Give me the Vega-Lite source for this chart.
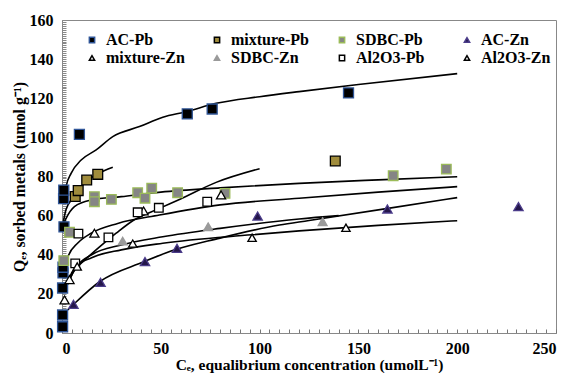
{
 "$schema": "https://vega.github.io/schema/vega-lite/v6.json",
 "width": 494,
 "height": 313,
 "autosize": "none",
 "padding": {"left": 62, "top": 20, "right": 13, "bottom": 40},
 "background": "white",
 "config": {"view": {"stroke": "#888888", "strokeWidth": 1}, "font": "Liberation Serif",
  "legend": {"labelFont": "Liberation Serif", "labelFontSize": 16, "labelFontWeight": "bold", "labelColor": "black"}},
 "datasets": {
  "pts": [
   {"series": "AC-Pb", "x": 0.3, "y": 3.2}, {"series": "AC-Pb", "x": 0.3, "y": 9.2}, {"series": "AC-Pb", "x": 0.3, "y": 23}, {"series": "AC-Pb", "x": 0.5, "y": 30.7}, {"series": "AC-Pb", "x": 0.5, "y": 33.6}, {"series": "AC-Pb", "x": 1, "y": 54.3}, {"series": "AC-Pb", "x": 0.8, "y": 68.7}, {"series": "AC-Pb", "x": 0.9, "y": 73}, {"series": "AC-Pb", "x": 8.8, "y": 101.5}, {"series": "AC-Pb", "x": 63.4, "y": 112}, {"series": "AC-Pb", "x": 76, "y": 114.5}, {"series": "AC-Pb", "x": 145, "y": 122.7},
   {"series": "mixture-Pb", "x": 6.7, "y": 69.8}, {"series": "mixture-Pb", "x": 8.2, "y": 72.8}, {"series": "mixture-Pb", "x": 12.5, "y": 78.2}, {"series": "mixture-Pb", "x": 18.1, "y": 81.1}, {"series": "mixture-Pb", "x": 138.3, "y": 87.9},
   {"series": "SDBC-Pb", "x": 0.9, "y": 37}, {"series": "SDBC-Pb", "x": 3.8, "y": 51.5}, {"series": "SDBC-Pb", "x": 16.4, "y": 69.7}, {"series": "SDBC-Pb", "x": 16.4, "y": 67.1}, {"series": "SDBC-Pb", "x": 25, "y": 68.3}, {"series": "SDBC-Pb", "x": 38.3, "y": 71.7}, {"series": "SDBC-Pb", "x": 42, "y": 68.9}, {"series": "SDBC-Pb", "x": 45.4, "y": 74}, {"series": "SDBC-Pb", "x": 58.5, "y": 71.7}, {"series": "SDBC-Pb", "x": 82.5, "y": 71.4}, {"series": "SDBC-Pb", "x": 167.6, "y": 80.4}, {"series": "SDBC-Pb", "x": 194.5, "y": 83.8},
   {"series": "AC-Zn", "x": 5.8, "y": 14.7}, {"series": "AC-Zn", "x": 19.5, "y": 25.9}, {"series": "AC-Zn", "x": 42, "y": 36.5}, {"series": "AC-Zn", "x": 58.2, "y": 43.3}, {"series": "AC-Zn", "x": 99, "y": 59.8}, {"series": "AC-Zn", "x": 164.7, "y": 63.4}, {"series": "AC-Zn", "x": 231, "y": 64.6},
   {"series": "mixture-Zn", "x": 1.3, "y": 16.9}, {"series": "mixture-Zn", "x": 3.8, "y": 27.3}, {"series": "mixture-Zn", "x": 16.4, "y": 51}, {"series": "mixture-Zn", "x": 41.3, "y": 62.4}, {"series": "mixture-Zn", "x": 80.5, "y": 70.6},
   {"series": "SDBC-Zn", "x": 30.7, "y": 47}, {"series": "SDBC-Zn", "x": 74, "y": 54.3}, {"series": "SDBC-Zn", "x": 131.9, "y": 56.9},
   {"series": "Al2O3-Pb", "x": 6.7, "y": 35.6}, {"series": "Al2O3-Pb", "x": 8.3, "y": 50.8}, {"series": "Al2O3-Pb", "x": 23.5, "y": 48.9}, {"series": "Al2O3-Pb", "x": 38.3, "y": 61.7}, {"series": "Al2O3-Pb", "x": 49, "y": 64}, {"series": "Al2O3-Pb", "x": 73.5, "y": 67.1},
   {"series": "Al2O3-Zn", "x": 7.7, "y": 34}, {"series": "Al2O3-Zn", "x": 35.8, "y": 45.7}, {"series": "Al2O3-Zn", "x": 96.2, "y": 48.7}, {"series": "Al2O3-Zn", "x": 143.7, "y": 53.8}
  ],
  "fits": [
   {"curve": "AC-Pb", "x": 0.8, "y": 66}, {"curve": "AC-Pb", "x": 2.1, "y": 75}, {"curve": "AC-Pb", "x": 4.6, "y": 81.6}, {"curve": "AC-Pb", "x": 9.7, "y": 88.4}, {"curve": "AC-Pb", "x": 17.3, "y": 93.6}, {"curve": "AC-Pb", "x": 25.7, "y": 100.4}, {"curve": "AC-Pb", "x": 39.2, "y": 105.5}, {"curve": "AC-Pb", "x": 51, "y": 110.3}, {"curve": "AC-Pb", "x": 62.8, "y": 113.1}, {"curve": "AC-Pb", "x": 78, "y": 117.4}, {"curve": "AC-Pb", "x": 100, "y": 120.8}, {"curve": "AC-Pb", "x": 120, "y": 123.4}, {"curve": "AC-Pb", "x": 150, "y": 127}, {"curve": "AC-Pb", "x": 200, "y": 132.6},
   {"curve": "mixture-Pb", "x": 0.5, "y": 56}, {"curve": "mixture-Pb", "x": 2, "y": 63}, {"curve": "mixture-Pb", "x": 5.5, "y": 69}, {"curve": "mixture-Pb", "x": 12.2, "y": 77.4}, {"curve": "mixture-Pb", "x": 18.1, "y": 81.3}, {"curve": "mixture-Pb", "x": 25.7, "y": 84.7},
   {"curve": "SDBC-Pb", "x": 0.4, "y": 55}, {"curve": "SDBC-Pb", "x": 2, "y": 58.5}, {"curve": "SDBC-Pb", "x": 6.3, "y": 64.6}, {"curve": "SDBC-Pb", "x": 14.8, "y": 68}, {"curve": "SDBC-Pb", "x": 30, "y": 69.7}, {"curve": "SDBC-Pb", "x": 50, "y": 72}, {"curve": "SDBC-Pb", "x": 80, "y": 74.2}, {"curve": "SDBC-Pb", "x": 120, "y": 76.5}, {"curve": "SDBC-Pb", "x": 160, "y": 78.3}, {"curve": "SDBC-Pb", "x": 200, "y": 79.9},
   {"curve": "mixture-Zn", "x": 1.3, "y": 21}, {"curve": "mixture-Zn", "x": 5, "y": 31}, {"curve": "mixture-Zn", "x": 8.8, "y": 34.8}, {"curve": "mixture-Zn", "x": 19, "y": 44}, {"curve": "mixture-Zn", "x": 27.4, "y": 51}, {"curve": "mixture-Zn", "x": 35.8, "y": 57.4}, {"curve": "mixture-Zn", "x": 49.3, "y": 63.7}, {"curve": "mixture-Zn", "x": 60, "y": 68.5}, {"curve": "mixture-Zn", "x": 78, "y": 77}, {"curve": "mixture-Zn", "x": 100, "y": 84},
   {"curve": "Al2O3-Pb", "x": 1.3, "y": 30}, {"curve": "Al2O3-Pb", "x": 3, "y": 39}, {"curve": "Al2O3-Pb", "x": 8, "y": 46}, {"curve": "Al2O3-Pb", "x": 14.8, "y": 51}, {"curve": "Al2O3-Pb", "x": 28.2, "y": 56}, {"curve": "Al2O3-Pb", "x": 49.3, "y": 60.3}, {"curve": "Al2O3-Pb", "x": 80, "y": 65.5}, {"curve": "Al2O3-Pb", "x": 120, "y": 68.9}, {"curve": "Al2O3-Pb", "x": 160, "y": 72}, {"curve": "Al2O3-Pb", "x": 200, "y": 74.8},
   {"curve": "SDBC-Zn", "x": 1.3, "y": 21}, {"curve": "SDBC-Zn", "x": 3, "y": 25.4}, {"curve": "SDBC-Zn", "x": 7.7, "y": 34.3}, {"curve": "SDBC-Zn", "x": 15, "y": 40}, {"curve": "SDBC-Zn", "x": 30, "y": 45}, {"curve": "SDBC-Zn", "x": 51, "y": 49.2}, {"curve": "SDBC-Zn", "x": 80, "y": 53.5}, {"curve": "SDBC-Zn", "x": 120, "y": 58.3}, {"curve": "SDBC-Zn", "x": 140, "y": 60},
   {"curve": "Al2O3-Zn", "x": 1.3, "y": 21}, {"curve": "Al2O3-Zn", "x": 3, "y": 25.4}, {"curve": "Al2O3-Zn", "x": 7.7, "y": 34.3}, {"curve": "Al2O3-Zn", "x": 15, "y": 38.5}, {"curve": "Al2O3-Zn", "x": 30, "y": 42.5}, {"curve": "Al2O3-Zn", "x": 51, "y": 45.9}, {"curve": "Al2O3-Zn", "x": 96, "y": 50.2}, {"curve": "Al2O3-Zn", "x": 120, "y": 52.2}, {"curve": "Al2O3-Zn", "x": 160, "y": 55}, {"curve": "Al2O3-Zn", "x": 200, "y": 57.4},
   {"curve": "AC-Zn", "x": 2.9, "y": 11.8}, {"curve": "AC-Zn", "x": 5.5, "y": 14.3}, {"curve": "AC-Zn", "x": 19, "y": 26.2}, {"curve": "AC-Zn", "x": 41.7, "y": 36.5}, {"curve": "AC-Zn", "x": 51.8, "y": 40.7}, {"curve": "AC-Zn", "x": 80, "y": 48.5}, {"curve": "AC-Zn", "x": 110, "y": 55.2}, {"curve": "AC-Zn", "x": 125, "y": 57.5}, {"curve": "AC-Zn", "x": 165, "y": 63.7}, {"curve": "AC-Zn", "x": 200, "y": 69.2}
  ]
 },
 "encoding": {
  "x": {"field": "x", "type": "quantitative", "scale": {"domain": [0, 250], "nice": false},
   "axis": {"values": [0,5,10,15,20,25,30,35,40,45,50,55,60,65,70,75,80,85,90,95,100,105,110,115,120,125,130,135,140,145,150,155,160,165,170,175,180,185,190,195,200,205,210,215,220,225,230,235,240,245,250],
    "labelExpr": "datum.value % 50 === 0 ? datum.label : ''", "labelOverlap": false, "labelSeparation": 0, "grid": false,
    "tickSize": -4, "tickColor": "#777777", "domainColor": "#888888",
    "labelFont": "Liberation Serif", "labelFontSize": 16, "labelFontWeight": "bold", "labelColor": "black", "labelPadding": 11,
    "title": "Cₑ, equalibrium concentration (umolL⁻¹)", "titleFont": "Liberation Serif", "titleFontSize": 15.5, "titleFontWeight": "bold", "titleColor": "black", "titleBaseline": "alphabetic", "titleY": 36}},
  "y": {"field": "y", "type": "quantitative", "scale": {"domain": [0, 160], "nice": false},
   "axis": {"values": [0,1,2,3,4,5,6,7,8,9,10,11,12,13,14,15,16,17,18,19,20,21,22,23,24,25,26,27,28,29,30,31,32,33,34,35,36,37,38,39,40,41,42,43,44,45,46,47,48,49,50,51,52,53,54,55,56,57,58,59,60,61,62,63,64,65,66,67,68,69,70,71,72,73,74,75,76,77,78,79,80,81,82,83,84,85,86,87,88,89,90,91,92,93,94,95,96,97,98,99,100,101,102,103,104,105,106,107,108,109,110,111,112,113,114,115,116,117,118,119,120,121,122,123,124,125,126,127,128,129,130,131,132,133,134,135,136,137,138,139,140,141,142,143,144,145,146,147,148,149,150,151,152,153,154,155,156,157,158,159,160],
    "labelExpr": "datum.value % 20 === 0 ? datum.label : ''", "labelOverlap": false, "labelSeparation": 0, "grid": false,
    "tickSize": -4, "tickColor": "#888888", "domainColor": "#888888",
    "labelFont": "Liberation Serif", "labelFontSize": 16, "labelFontWeight": "bold", "labelColor": "black", "labelPadding": 13,
    "title": "Qₑ, sorbed metals (umol g⁻¹)", "titleFont": "Liberation Serif", "titleFontSize": 16, "titleFontWeight": "bold", "titleColor": "black", "titlePadding": 2}}
 },
 "layer": [
  {
   "data": {"name": "fits"},
   "mark": {"type": "line", "color": "black", "strokeWidth": 1.6, "interpolate": "monotone"},
   "encoding": {"detail": {"field": "curve"}}
  },
  {
   "data": {"name": "pts"},
   "mark": {"type": "point", "opacity": 1, "strokeWidth": 1.3, "filled": true},
   "encoding": {
    "shape": {"field": "series", "type": "nominal",
     "scale": {"domain": ["AC-Pb", "mixture-Pb", "SDBC-Pb", "AC-Zn", "mixture-Zn", "SDBC-Zn", "Al2O3-Pb", "Al2O3-Zn"],
      "range": ["square", "square", "square", "triangle-up", "triangle-up", "triangle-up", "square", "triangle-up"]},
     "legend": {"title": null, "orient": "none", "legendX": 22, "legendY": 12, "columns": 4, "direction": "horizontal", "gridAlign": "all", "columnPadding": 24, "rowPadding": 2, "symbolSize": 28, "labelOffset": 6}},
    "fill": {"field": "series", "type": "nominal",
     "scale": {"domain": ["AC-Pb", "mixture-Pb", "SDBC-Pb", "AC-Zn", "mixture-Zn", "SDBC-Zn", "Al2O3-Pb", "Al2O3-Zn"],
      "range": ["#000000", "#a08c3c", "#858585", "#24164a", "#ffffff", "#9a9a9a", "#ffffff", "#ffffff"]}},
    "stroke": {"field": "series", "type": "nominal",
     "scale": {"domain": ["AC-Pb", "mixture-Pb", "SDBC-Pb", "AC-Zn", "mixture-Zn", "SDBC-Zn", "Al2O3-Pb", "Al2O3-Zn"],
      "range": ["#2f5597", "#000000", "#9bbb59", "#4b3c8a", "#000000", "#9a9a9a", "#000000", "#000000"]}},
    "size": {"field": "series", "type": "nominal",
     "scale": {"domain": ["Al2O3-Zn", "Al2O3-Pb", "SDBC-Zn", "mixture-Zn", "AC-Zn", "SDBC-Pb", "mixture-Pb", "AC-Pb"],
      "range": [70, 100, 55, 70, 55, 85, 45, 60]}, "legend": null}
   }
  }
 ]
}
